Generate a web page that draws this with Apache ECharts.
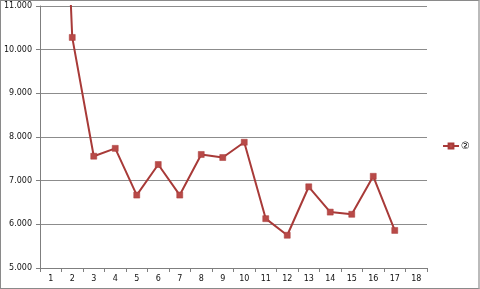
<!DOCTYPE html>
<html><head><meta charset="utf-8">
<script src="https://cdn.jsdelivr.net/npm/echarts@6/dist/echarts.min.js"></script>
<style>html,body{margin:0;padding:0;background:#fff}
#c{width:480px;height:289px;box-sizing:border-box;border:1px solid #8a8a8a;border-right:2px solid #bbb}</style>
</head><body><div id="c"></div>
<script>
const categories = ['1','2','3','4','5','6','7','8','9','10','11','12','13','14','15','16','17','18'];
const seriesName = '②';
const values = [22000, 10280, 7560, 7740, 6670, 7370, 6670, 7600, 7530, 7880, 6130, 5750, 6860, 6280, 6230, 7100, 5860, null];
const yTicks = {min: 5000, max: 11000, interval: 1000};

function fmt(v){ const s=String(Math.round(v)); return s.slice(0,-3)+'.'+s.slice(-3); }
const chart = echarts.init(document.getElementById('c'), null, {renderer:'canvas'});
chart.setOption({
  animation:false,
  grid:{left:35, right:51, top:5, bottom:20, containLabel:false},
  legend:{orient:'vertical', left:436, top:135, itemWidth:16, itemHeight:6, itemGap:4,
    textStyle:{fontSize:10, color:'#000', fontFamily:'DejaVu Sans', padding:[0,0,0,-3]}, data:[seriesName]},
  xAxis:{type:'category', data:categories, boundaryGap:true,
    axisLine:{lineStyle:{color:'#7f7f7f', width:1}},
    axisTick:{show:true, length:4, interval:0, lineStyle:{color:'#7f7f7f'}},
    axisLabel:{fontSize:8, color:'#111', margin:7, interval:0, fontFamily:'DejaVu Sans'}},
  yAxis:{type:'value', min:yTicks.min, max:yTicks.max, interval:yTicks.interval,
    axisLine:{show:true, lineStyle:{color:'#7f7f7f'}},
    axisTick:{show:true, length:4, lineStyle:{color:'#7f7f7f'}},
    axisLabel:{fontSize:8, color:'#111', margin:8, formatter:fmt, fontFamily:'DejaVu Sans'},
    splitLine:{lineStyle:{color:'#8c8c8c', width:1}}},
  series:[{name:seriesName, type:'line', data:values, clip:true,
    symbol:'rect', symbolSize:6, showAllSymbol:true,
    lineStyle:{color:'#a83a38', width:2}, itemStyle:{color:'#b84a48', borderColor:'#a83a38', borderWidth:0.5}}]
});
</script></body></html>
